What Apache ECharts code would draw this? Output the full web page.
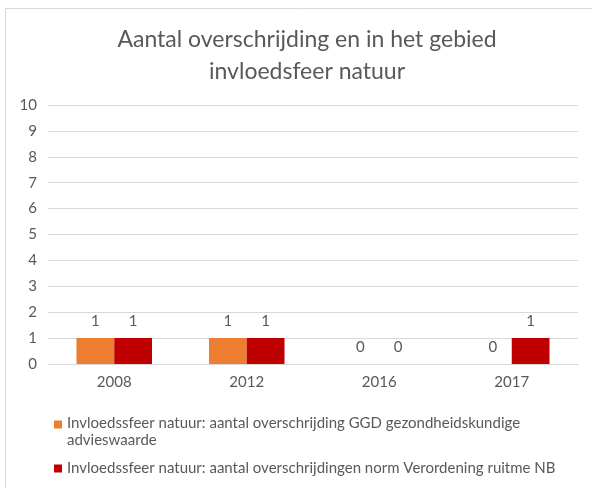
<!DOCTYPE html>
<html>
<head>
<meta charset="utf-8">
<script src="https://cdn.jsdelivr.net/npm/echarts@6/dist/echarts.min.js"></script>
<style>
  html, body { margin: 0; padding: 0; background: #fff; }
  #d_chart { width: 592px; height: 488px; }
</style>
</head>
<body>
<div id="d_chart"></div>
<script>
var xData = ['2008', '2012', '2016', '2017']
var yGGD = [1, 1, 0, 0]
var yNorm = [1, 1, 0, 1]
var seriesNames = [
  'Invloedssfeer natuur: aantal overschrijding GGD gezondheidskundige advieswaarde',
  'Invloedssfeer natuur: aantal overschrijdingen norm Verordening ruitme NB'
]

var font = 'Lato'
var txt = '#595959'
var chart = echarts.init(document.getElementById('d_chart'))

var label = {
  show: true,
  position: 'top',
  distance: 9,
  color: txt,
  fontSize: 15,
  fontFamily: font
}

var legendText = {
  color: txt,
  fontSize: 15,
  fontFamily: font,
  overflow: 'break',
  lineHeight: 17
}

var option = {
  animation: false,
  graphic: [{
    type: 'polyline',
    shape: { points: [[5.5, 488], [5.5, 8.5], [592, 8.5]] },
    style: { stroke: '#d9d9d9', fill: null, lineWidth: 1 }
  }],
  title: {
    text: 'Aantal overschrijding en in het gebied\ninvloedsfeer natuur',
    left: 302,
    textAlign: 'center',
    top: 19,
    textStyle: {
      color: txt,
      fontSize: 23,
      fontWeight: 'normal',
      fontFamily: font,
      lineHeight: 32
    }
  },
  // eerste item loopt over twee regels; icoon bovenaan houden
  legend: [{
    left: 49,
    top: 410,
    data: [{
      name: seriesNames[0],
      icon: 'path://M0,0h9v9h-9z M0,26h0.01v0.01h-0.01z'
    }],
    itemWidth: 8,
    itemHeight: 26,
    textStyle: Object.assign({ width: 465 }, legendText)
  }, {
    left: 49,
    top: 455,
    data: [{ name: seriesNames[1], icon: 'rect' }],
    itemWidth: 8,
    itemHeight: 8,
    textStyle: Object.assign({ width: 520 }, legendText)
  }],
  grid: {
    left: 48,
    right: 14,
    top: 105,
    bottom: 124
  },
  xAxis: {
    type: 'category',
    data: xData,
    axisLine: { lineStyle: { color: '#d9d9d9' } },
    axisTick: { show: false },
    axisLabel: { color: txt, fontSize: 15, fontFamily: font, margin: 11 }
  },
  yAxis: {
    type: 'value',
    min: 0,
    max: 10,
    interval: 1,
    axisLine: { show: false },
    axisTick: { show: false },
    splitLine: { lineStyle: { color: '#d9d9d9' } },
    axisLabel: { color: txt, fontSize: 15, fontFamily: font, margin: 11 }
  },
  series: [{
    name: seriesNames[0],
    type: 'bar',
    data: yGGD,
    barGap: '0%',
    barCategoryGap: '43%',
    itemStyle: { color: '#ED7D31' },
    label: label
  }, {
    name: seriesNames[1],
    type: 'bar',
    data: yNorm,
    itemStyle: { color: '#C00000' },
    label: label
  }]
}
chart.setOption(option, true)
</script>
</body>
</html>
